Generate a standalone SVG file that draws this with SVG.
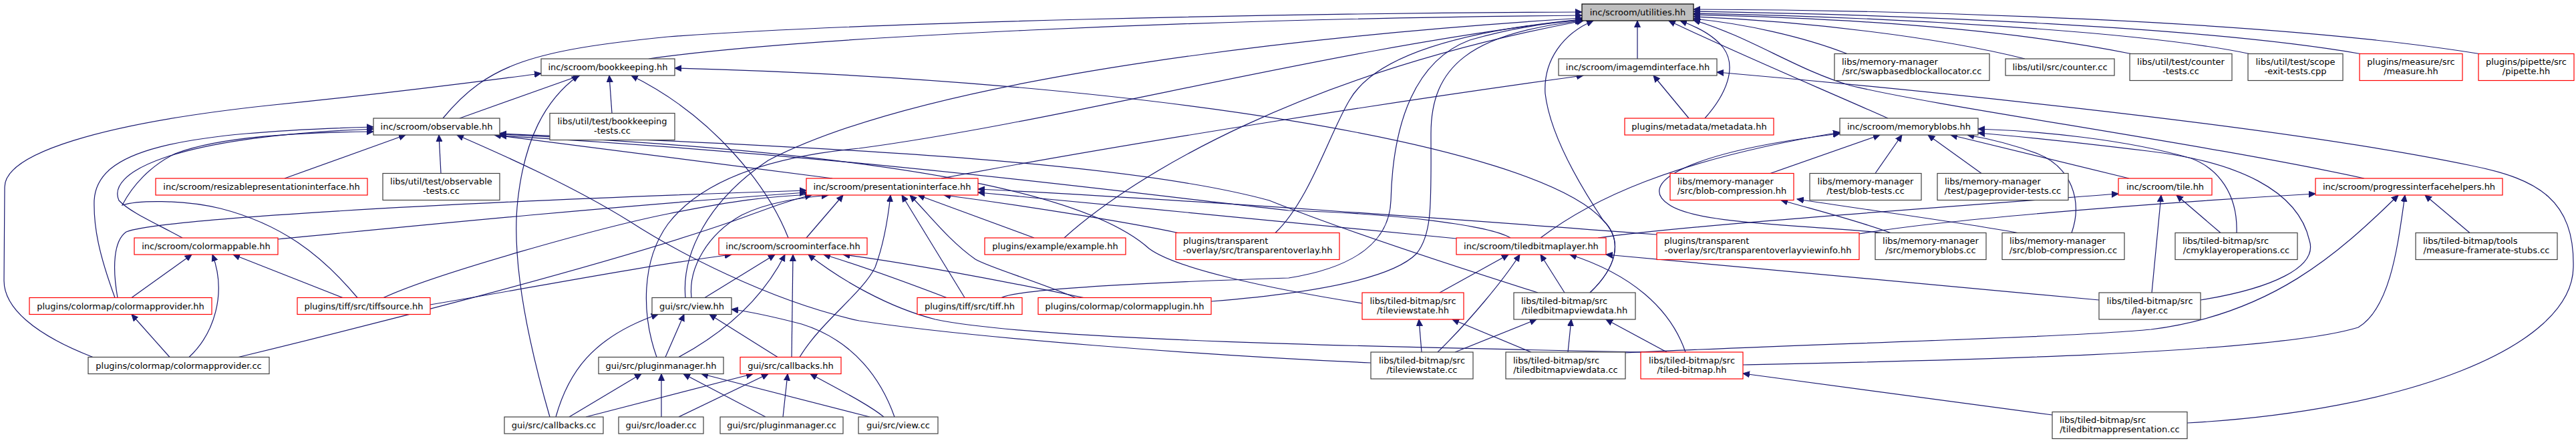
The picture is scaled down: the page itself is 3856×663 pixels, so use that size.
<svg xmlns="http://www.w3.org/2000/svg" width="3856" height="663" viewBox="0 0 3856 663">
<style>
.n rect{fill:#fff;stroke:#404040;stroke-width:1.2}
.n.r rect{stroke:#ff0000}
.n.root rect{fill:#bfbfbf;stroke:#000}
.n text{font-family:"DejaVu Sans","Liberation Sans",sans-serif;font-size:13px;fill:#000;text-anchor:middle}
.n text.s{text-anchor:start}
#edges path{fill:none;stroke:#191970;stroke-width:1.2;marker-end:url(#ah)}
</style>
<defs>
<marker id="ah" markerWidth="11" markerHeight="10" refX="10" refY="5" orient="auto" markerUnits="userSpaceOnUse">
<path d="M0,0.5 L10,5 L0,9.5 z" fill="#191970" stroke="#191970" stroke-width="1"/>
</marker>
</defs>
<rect width="3856" height="663" fill="#fff"/>
<g id="edges">
<path d="M971,88 C1200,55 1800,28 2368,23"/>
<path d="M663,177 C730,95 800,75 1000,55 C1300,33 1900,20 2368,18"/>
<path d="M2451,88 L2451,31"/>
<path d="M2528,177 L2475,113"/>
<path d="M2552,177 C2585,140 2600,100 2580,72 C2565,52 2540,40 2515,31"/>
<path d="M2826,177 C2720,130 2600,80 2498,31"/>
<path d="M2765,80.5 C2700,55 2610,35 2535,28"/>
<path d="M3031,88 C2900,55 2700,32 2535,25"/>
<path d="M3190,80.5 C3000,42 2750,27 2535,22"/>
<path d="M3367,80.5 C3200,45 2800,25 2535,20"/>
<path d="M3533,80.5 C3300,40 2850,22 2535,17"/>
<path d="M3711,80.5 C3400,30 2850,15 2535,14"/>
<path d="M3539,267 C3300,215 2900,160 2770,128 C2690,105 2620,55 2535,30"/>
<path d="M3274,633 C3600,615 3850,520 3852,400 C3854,300 3800,268 3700,248 C3400,185 2800,128 2570,108"/>
<path d="M688,177 L868,113"/>
<path d="M916,169.5 L912,113"/>
<path d="M823,624 C790,510 765,390 775,300 C785,210 815,150 866,113"/>
<path d="M1180,356 C1150,280 1070,175 945,113"/>
<path d="M2380,438 C2420,400 2430,360 2400,330 C2300,215 1700,120 1010,102"/>
<path d="M139,534.5 C50,500 6,460 6,420 L7,280 C7,230 150,185 400,158 C600,138 700,124 810,110"/>
<path d="M426,267 L607,202"/>
<path d="M660,259.5 L657,202"/>
<path d="M1246,267 L740,202"/>
<path d="M172,445.5 C148,380 140,340 141,300 C145,225 260,198 559,190"/>
<path d="M273,356 C235,335 195,318 178,300 C160,260 250,205 559,193"/>
<path d="M535,445.5 C480,380 420,335 330,312 C270,298 205,300 183,307 C198,278 225,248 262,230 C330,204 450,198 559,197"/>
<path d="M2261,356 C2230,338 2100,320 1929,315 C1700,290 1300,235 748,203"/>
<path d="M2039,454 C1900,432 1760,402 1720,372 C1640,300 1400,232 748,201"/>
<path d="M2302,438 C2150,390 2000,340 1900,300 C1700,245 1300,222 748,200"/>
<path d="M2052,543 C1800,532 1450,505 1286,480 C1150,450 1010,375 942,331 C860,280 760,235 684,202"/>
<path d="M1409,267 C1700,212 2100,150 2370,113"/>
<path d="M2650,259.5 L2814,202"/>
<path d="M2807,259.5 L2847,202"/>
<path d="M2966,259.5 L2886,202"/>
<path d="M3187,267 L2920,202"/>
<path d="M2306,356 C2380,300 2500,240 2754,198"/>
<path d="M2818,348.5 C2700,336 2540,336 2498,306 C2450,275 2520,228 2754,200"/>
<path d="M3101,348.5 C3118,300 3100,250 3050,230 C3010,215 2980,208 2945,202"/>
<path d="M3294,449 C3400,432 3470,400 3457,360 C3440,285 3350,242 3215,226 C3100,212 3010,203 2961,199"/>
<path d="M3348,348.5 C3350,290 3320,252 3280,237 C3180,208 3050,196 2961,193"/>
<path d="M2830,348.5 C2780,330 2720,315 2666,299.5"/>
<path d="M3020,348.5 C2950,335 2800,315 2690,298"/>
<path d="M2392,356 C2500,340 2800,318 3171,290"/>
<path d="M3221,438 L3235,292"/>
<path d="M3324,348.5 L3258,292"/>
<path d="M2783,350 C2900,330 3200,305 3466,290"/>
<path d="M3697,348.5 L3630,292"/>
<path d="M2609,546 C2900,540 3400,530 3530,490 C3580,460 3590,360 3600,292"/>
<path d="M2433,528 C2700,515 3100,505 3220,493 C3400,470 3500,380 3590,292"/>
<path d="M416,358 C600,340 900,310 1207,288"/>
<path d="M176,445.5 C168,400 170,360 189,347 C230,330 600,305 1207,285"/>
<path d="M357,534.5 C500,500 900,400 1100,330 C1150,312 1180,300 1215,292"/>
<path d="M1207,356 L1262,292"/>
<path d="M1035,445.5 C1030,400 1060,350 1110,322 C1150,302 1200,296 1240,292"/>
<path d="M1197,534.5 C1230,480 1290,440 1310,400 C1325,360 1330,320 1333,292"/>
<path d="M1444,445.5 L1350,292"/>
<path d="M1610,445.5 C1550,420 1480,400 1460,388 C1420,360 1390,320 1362,292"/>
<path d="M1548,356 L1374,292"/>
<path d="M1763,348.5 C1700,335 1550,310 1413,292"/>
<path d="M2180,357 C2050,345 1700,310 1464,288"/>
<path d="M2480,351 C2200,330 1800,300 1464,283"/>
<path d="M574,445.5 C650,410 900,340 1000,320 C1100,300 1150,294 1215,291"/>
<path d="M644,456 C800,430 950,400 1095,381"/>
<path d="M1055,445.5 L1160,381"/>
<path d="M1016,534.5 C1080,500 1140,450 1175,381"/>
<path d="M1185,534.5 L1187,381"/>
<path d="M1417,445.5 C1350,420 1280,395 1233,381"/>
<path d="M1622,445.5 C1500,420 1350,392 1262,381"/>
<path d="M2458,527 C2100,520 1550,510 1400,478 C1330,460 1260,420 1210,381"/>
<path d="M197,445.5 L287,381"/>
<path d="M283,534.5 C320,500 340,440 318,381"/>
<path d="M513,445.5 L349,381"/>
<path d="M254,534.5 L197,470.5"/>
<path d="M996,534.5 L1024,470.5"/>
<path d="M1164,534.5 L1062,470.5"/>
<path d="M832,624 C850,560 885,505 985,470.5"/>
<path d="M1339,624 C1320,570 1280,510 1200,485 C1150,472 1120,466 1095,463"/>
<path d="M852,624 L960,559.5"/>
<path d="M990,624 L990,559.5"/>
<path d="M1146,624 L1023,559.5"/>
<path d="M1302,624 L1050,559.5"/>
<path d="M877,624 L1127,559.5"/>
<path d="M1016,624 L1150,559.5"/>
<path d="M1172,624 L1179,559.5"/>
<path d="M1323,624 C1300,605 1250,580 1213,559.5"/>
<path d="M2155,438 L2258,381"/>
<path d="M2152,527 C2200,480 2250,420 2275,381"/>
<path d="M2342,438 L2306,381"/>
<path d="M2523,527 C2500,460 2440,410 2350,381"/>
<path d="M3142,449 L2404,381"/>
<path d="M2128,527 L2124,478"/>
<path d="M2292,527 L2174,478"/>
<path d="M2178,527 L2300,478"/>
<path d="M2347,527 L2352,478"/>
<path d="M2495,527 L2404,478"/>
<path d="M3072,621 L2609,559"/>
<path d="M1026,445.5 C1020,380 1060,300 1150,240 C1400,110 2000,50 2368,27"/>
<path d="M983,534.5 C960,470 960,390 1000,335 C1050,270 1150,235 1286,222 C1600,180 2000,70 2368,29"/>
<path d="M1593,356 C1700,260 1950,110 2370,31"/>
<path d="M1909,348.5 C1960,300 1990,200 2020,150 C2060,80 2200,45 2368,29"/>
<path d="M1499,445.5 C1530,430 1800,420 1929,416 C2030,400 2080,360 2082,300 C2085,180 2120,90 2200,60 C2270,40 2330,33 2368,30"/>
<path d="M1813,451 C1950,440 2080,420 2120,380 C2145,350 2142,300 2142,200 C2142,100 2200,50 2368,31"/>
<path d="M2380,438 C2420,400 2430,360 2400,330 C2360,270 2320,200 2313,140 C2310,90 2340,50 2385,31"/>
</g>
<g id="utilities" class="n root"><rect x="2368" y="6" width="167" height="25"/><text x="2451.5" y="23">inc/scroom/utilities.hh</text></g>
<g id="bookkeeping" class="n"><rect x="810" y="88" width="200" height="25"/><text x="910" y="105">inc/scroom/bookkeeping.hh</text></g>
<g id="imagemdinterface" class="n"><rect x="2333" y="88" width="237" height="25"/><text x="2451.5" y="105">inc/scroom/imagemdinterface.hh</text></g>
<g id="swapbasedblockallocator" class="n"><rect x="2746" y="80.5" width="232" height="40"/><text class="s" x="2757" y="97">libs/memory-manager</text><text x="2862" y="111">/src/swapbasedblockallocator.cc</text></g>
<g id="counter_cc" class="n"><rect x="3002" y="88" width="163" height="25"/><text x="3083.5" y="105">libs/util/src/counter.cc</text></g>
<g id="counter_tests" class="n"><rect x="3188" y="80.5" width="153" height="40"/><text x="3264.5" y="97">libs/util/test/counter</text><text x="3264.5" y="111">-tests.cc</text></g>
<g id="scope_exit_tests" class="n"><rect x="3365" y="80.5" width="142" height="40"/><text x="3436" y="97">libs/util/test/scope</text><text x="3436" y="111">-exit-tests.cpp</text></g>
<g id="measure" class="n r"><rect x="3532" y="80.5" width="154" height="40"/><text x="3609" y="97">plugins/measure/src</text><text x="3609" y="111">/measure.hh</text></g>
<g id="pipette" class="n r"><rect x="3710" y="80.5" width="143" height="40"/><text x="3781.5" y="97">plugins/pipette/src</text><text x="3781.5" y="111">/pipette.hh</text></g>
<g id="observable" class="n"><rect x="559" y="177" width="189" height="25"/><text x="653.5" y="194">inc/scroom/observable.hh</text></g>
<g id="bookkeeping_tests" class="n"><rect x="823" y="169.5" width="187" height="40"/><text x="916.5" y="186">libs/util/test/bookkeeping</text><text x="916.5" y="200">-tests.cc</text></g>
<g id="metadata" class="n r"><rect x="2432" y="177" width="223" height="25"/><text x="2543.5" y="194">plugins/metadata/metadata.hh</text></g>
<g id="memoryblobs" class="n"><rect x="2754" y="177" width="207" height="25"/><text x="2857.5" y="194">inc/scroom/memoryblobs.hh</text></g>
<g id="resizablepresentationinterface" class="n r"><rect x="233" y="267" width="317" height="25"/><text x="391.5" y="284">inc/scroom/resizablepresentationinterface.hh</text></g>
<g id="observable_tests" class="n"><rect x="573" y="259.5" width="175" height="40"/><text x="660.5" y="276">libs/util/test/observable</text><text x="660.5" y="290">-tests.cc</text></g>
<g id="presentationinterface" class="n r"><rect x="1207" y="267" width="257" height="25"/><text x="1335.5" y="284">inc/scroom/presentationinterface.hh</text></g>
<g id="blob_compression_hh" class="n r"><rect x="2500" y="259.5" width="185" height="40"/><text class="s" x="2511" y="276">libs/memory-manager</text><text x="2592.5" y="290">/src/blob-compression.hh</text></g>
<g id="blob_tests" class="n"><rect x="2709" y="259.5" width="167" height="40"/><text x="2792.5" y="276">libs/memory-manager</text><text x="2792.5" y="290">/test/blob-tests.cc</text></g>
<g id="pageprovider_tests" class="n"><rect x="2900" y="259.5" width="196" height="40"/><text class="s" x="2911" y="276">libs/memory-manager</text><text x="2998" y="290">/test/pageprovider-tests.cc</text></g>
<g id="tile" class="n r"><rect x="3171" y="267" width="140" height="25"/><text x="3241" y="284">inc/scroom/tile.hh</text></g>
<g id="progressinterfacehelpers" class="n r"><rect x="3466" y="267" width="280" height="25"/><text x="3606" y="284">inc/scroom/progressinterfacehelpers.hh</text></g>
<g id="colormappable" class="n r"><rect x="201" y="356" width="215" height="25"/><text x="308.5" y="373">inc/scroom/colormappable.hh</text></g>
<g id="scroominterface" class="n r"><rect x="1076" y="356" width="222" height="25"/><text x="1187" y="373">inc/scroom/scroominterface.hh</text></g>
<g id="example" class="n r"><rect x="1474" y="356" width="211" height="25"/><text x="1579.5" y="373">plugins/example/example.hh</text></g>
<g id="transparentoverlay" class="n r"><rect x="1760" y="348.5" width="245" height="40"/><text class="s" x="1771" y="365">plugins/transparent</text><text x="1882.5" y="379">-overlay/src/transparentoverlay.hh</text></g>
<g id="tiledbitmaplayer" class="n r"><rect x="2180" y="356" width="224" height="25"/><text x="2292" y="373">inc/scroom/tiledbitmaplayer.hh</text></g>
<g id="transparentoverlayviewinfo" class="n r"><rect x="2480" y="348.5" width="303" height="40"/><text class="s" x="2491" y="365">plugins/transparent</text><text x="2631.5" y="379">-overlay/src/transparentoverlayviewinfo.hh</text></g>
<g id="memoryblobs_cc" class="n"><rect x="2807" y="348.5" width="166" height="40"/><text x="2890" y="365">libs/memory-manager</text><text x="2890" y="379">/src/memoryblobs.cc</text></g>
<g id="blob_compression_cc" class="n"><rect x="2997" y="348.5" width="183" height="40"/><text class="s" x="3008" y="365">libs/memory-manager</text><text x="3088.5" y="379">/src/blob-compression.cc</text></g>
<g id="cmyklayeroperations" class="n"><rect x="3256" y="348.5" width="183" height="40"/><text class="s" x="3267" y="365">libs/tiled-bitmap/src</text><text x="3347.5" y="379">/cmyklayeroperations.cc</text></g>
<g id="measure_framerate_stubs" class="n"><rect x="3616" y="348.5" width="212" height="40"/><text class="s" x="3627" y="365">libs/tiled-bitmap/tools</text><text x="3722" y="379">/measure-framerate-stubs.cc</text></g>
<g id="colormapprovider_hh" class="n r"><rect x="44" y="445.5" width="273" height="25"/><text x="180.5" y="462.5">plugins/colormap/colormapprovider.hh</text></g>
<g id="tiffsource" class="n r"><rect x="445" y="445.5" width="199" height="25"/><text x="544.5" y="462.5">plugins/tiff/src/tiffsource.hh</text></g>
<g id="view_hh" class="n"><rect x="976" y="445.5" width="119" height="25"/><text x="1035.5" y="462.5">gui/src/view.hh</text></g>
<g id="tiff_hh" class="n r"><rect x="1373" y="445.5" width="157" height="25"/><text x="1451.5" y="462.5">plugins/tiff/src/tiff.hh</text></g>
<g id="colormapplugin" class="n r"><rect x="1554" y="445.5" width="259" height="25"/><text x="1683.5" y="462.5">plugins/colormap/colormapplugin.hh</text></g>
<g id="tileviewstate_hh" class="n r"><rect x="2039" y="438" width="152" height="40"/><text x="2115" y="454.5">libs/tiled-bitmap/src</text><text x="2115" y="468.5">/tileviewstate.hh</text></g>
<g id="tiledbitmapviewdata_hh" class="n"><rect x="2266" y="438" width="182" height="40"/><text class="s" x="2277" y="454.5">libs/tiled-bitmap/src</text><text x="2357" y="468.5">/tiledbitmapviewdata.hh</text></g>
<g id="layer_cc" class="n"><rect x="3142" y="438" width="152" height="40"/><text x="3218" y="454.5">libs/tiled-bitmap/src</text><text x="3218" y="468.5">/layer.cc</text></g>
<g id="colormapprovider_cc" class="n"><rect x="132" y="534.5" width="271" height="25"/><text x="267.5" y="551.5">plugins/colormap/colormapprovider.cc</text></g>
<g id="pluginmanager_hh" class="n"><rect x="896" y="534.5" width="187" height="25"/><text x="989.5" y="551.5">gui/src/pluginmanager.hh</text></g>
<g id="callbacks_hh" class="n r"><rect x="1108" y="534.5" width="151" height="25"/><text x="1183.5" y="551.5">gui/src/callbacks.hh</text></g>
<g id="tileviewstate_cc" class="n"><rect x="2052" y="527" width="153" height="40"/><text x="2128.5" y="543.5">libs/tiled-bitmap/src</text><text x="2128.5" y="557.5">/tileviewstate.cc</text></g>
<g id="tiledbitmapviewdata_cc" class="n"><rect x="2254" y="527" width="179" height="40"/><text class="s" x="2265" y="543.5">libs/tiled-bitmap/src</text><text x="2343.5" y="557.5">/tiledbitmapviewdata.cc</text></g>
<g id="tiled_bitmap_hh" class="n r"><rect x="2456" y="527" width="153" height="40"/><text x="2532.5" y="543.5">libs/tiled-bitmap/src</text><text x="2532.5" y="557.5">/tiled-bitmap.hh</text></g>
<g id="callbacks_cc" class="n"><rect x="755" y="624" width="148" height="25"/><text x="829" y="641">gui/src/callbacks.cc</text></g>
<g id="loader_cc" class="n"><rect x="926" y="624" width="127" height="25"/><text x="989.5" y="641">gui/src/loader.cc</text></g>
<g id="pluginmanager_cc" class="n"><rect x="1078" y="624" width="184" height="25"/><text x="1170" y="641">gui/src/pluginmanager.cc</text></g>
<g id="view_cc" class="n"><rect x="1285" y="624" width="119" height="25"/><text x="1344.5" y="641">gui/src/view.cc</text></g>
<g id="tiledbitmappresentation" class="n"><rect x="3072" y="616.5" width="202" height="40"/><text class="s" x="3083" y="633">libs/tiled-bitmap/src</text><text x="3173" y="647">/tiledbitmappresentation.cc</text></g>
</svg>
